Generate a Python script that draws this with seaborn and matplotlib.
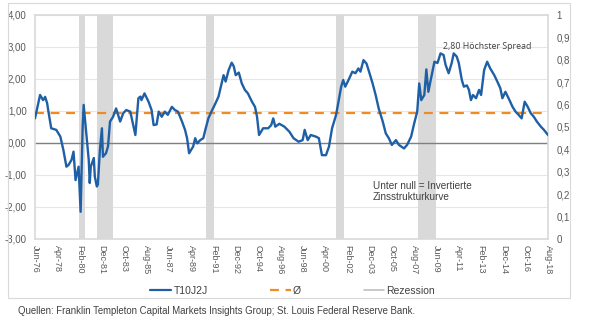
import numpy as np
import pandas as pd
import matplotlib
matplotlib.use("Agg")
import matplotlib.pyplot as plt
import seaborn as sns
from matplotlib.lines import Line2D
from matplotlib.patches import Rectangle

# ---------------- data ----------------
dates = ["1976-06", "1976-11", "1977-02", "1977-04", "1977-06", "1977-07", "1977-10", "1978-03",
         "1978-07", "1978-10", "1979-01", "1979-03", "1979-06", "1979-08", "1979-10", "1980-01",
         "1980-03", "1980-05", "1980-06", "1980-08", "1980-11", "1980-12", "1981-01", "1981-04",
         "1981-05", "1981-07", "1981-08", "1981-10", "1981-12", "1982-01", "1982-04", "1982-06",
         "1982-08", "1982-11", "1983-02", "1983-04", "1983-06", "1983-09", "1983-12", "1984-04",
         "1984-09", "1984-12", "1985-02", "1985-03", "1985-06", "1985-10", "1986-01", "1986-03",
         "1986-06", "1986-08", "1986-11", "1987-02", "1987-05", "1987-09", "1987-12", "1988-03",
         "1988-07", "1988-10", "1988-12", "1989-02", "1989-06", "1989-08", "1989-10", "1990-01",
         "1990-04", "1990-06", "1990-09", "1990-12", "1991-04", "1991-07", "1991-10", "1991-12",
         "1992-02", "1992-05", "1992-08", "1992-10", "1992-12", "1993-03", "1993-06", "1993-09",
         "1993-12", "1994-04", "1994-07", "1994-09", "1994-11", "1995-03", "1995-08", "1995-11",
         "1996-01", "1996-03", "1996-07", "1996-12", "1997-05", "1997-09", "1998-02", "1998-06",
         "1998-08", "1998-11", "1999-02", "1999-07", "1999-10", "2000-01", "2000-05", "2000-08",
         "2000-11", "2001-03", "2001-05", "2001-08", "2001-10", "2001-12", "2002-04", "2002-07",
         "2002-10", "2003-01", "2003-03", "2003-06", "2003-09", "2003-11", "2004-03", "2004-06",
         "2004-09", "2005-01", "2005-04", "2005-07", "2005-10", "2006-02", "2006-05", "2006-10",
         "2007-01", "2007-05", "2007-08", "2007-11", "2008-01", "2008-03", "2008-06", "2008-08",
         "2008-10", "2008-12", "2009-04", "2009-07", "2009-10", "2010-01", "2010-03", "2010-06",
         "2010-09", "2010-11", "2011-02", "2011-04", "2011-07", "2011-09", "2011-12", "2012-02",
         "2012-04", "2012-06", "2012-09", "2012-12", "2013-02", "2013-05", "2013-08", "2013-11",
         "2014-03", "2014-06", "2014-09", "2014-11", "2015-02", "2015-06", "2015-09", "2015-12",
         "2016-03", "2016-06", "2016-09", "2016-12", "2017-03", "2017-06", "2017-09", "2018-01",
         "2018-04", "2018-08"]
spread = [0.77, 1.50, 1.34, 1.44, 1.24, 1.03, 0.46, 0.41,
          0.20, -0.22, -0.74, -0.69, -0.53, -0.27, -1.16, -0.74,
          -2.15, 0.51, 1.19, 0.50, -0.53, -1.25, -0.74, -0.47,
          -1.05, -1.36, -1.30, -0.22, 0.46, -0.43, -0.32, -0.11,
          0.67, 0.82, 1.08, 0.88, 0.67, 0.93, 1.03, 0.98,
          0.25, 1.40, 1.45, 1.34, 1.55, 1.29, 1.03, 0.56,
          0.58, 0.98, 0.82, 0.98, 0.88, 1.13, 1.03, 0.98,
          0.67, 0.41, 0.15, -0.32, -0.11, 0.15, -0.01, 0.09,
          0.15, 0.41, 0.77, 0.98, 1.24, 1.45, 1.86, 2.12,
          1.92, 2.28, 2.51, 2.40, 2.12, 2.20, 1.86, 1.66,
          1.55, 1.29, 1.13, 0.82, 0.25, 0.46, 0.46, 0.56,
          0.77, 0.51, 0.60, 0.51, 0.35, 0.15, 0.04, 0.09,
          0.41, 0.09, 0.25, 0.20, 0.15, -0.38, -0.38, -0.11,
          0.46, 0.88, 1.24, 1.76, 1.97, 1.76, 2.02, 2.23,
          2.18, 2.33, 2.23, 2.59, 2.48, 2.28, 1.86, 1.50,
          1.08, 0.67, 0.30, 0.15, -0.06, 0.09, -0.06, -0.17,
          -0.06, 0.20, 0.61, 0.98, 1.86, 1.34, 1.50, 2.30,
          1.60, 1.92, 2.54, 2.50, 2.80, 2.75, 2.44, 2.18,
          2.50, 2.80, 2.70, 2.50, 1.97, 1.76, 1.80, 1.66,
          1.34, 1.50, 1.40, 1.66, 1.50, 2.28, 2.54, 2.33,
          2.12, 1.92, 1.71, 1.40, 1.60, 1.34, 1.13, 0.98,
          0.88, 0.77, 1.29, 1.13, 0.93, 0.82, 0.67, 0.51,
          0.41, 0.25]
mean_spread = 0.95
rec_start = ["1980-01", "1981-07", "1990-07", "2001-03", "2007-12"]
rec_end = ["1980-07", "1982-11", "1991-03", "2001-11", "2009-06"]
xtick_labels = ["Jun-76", "Apr-78", "Feb-80", "Dec-81", "Oct-83", "Aug-85", "Jun-87", "Apr-89",
                "Feb-91", "Dec-92", "Oct-94", "Aug-96", "Jun-98", "Apr-00", "Feb-02", "Dec-03",
                "Oct-05", "Aug-07", "Jun-09", "Apr-11", "Feb-13", "Dec-14", "Oct-16", "Aug-18"]
left_ticks = [4, 3, 2, 1, 0, -1, -2, -3]
left_tick_labels = ["4,00", "3,00", "2,00", "1,00", "0,00", "-1,00", "-2,00", "-3,00"]
right_ticks = [0, 0.1, 0.2, 0.3, 0.4, 0.5, 0.6, 0.7, 0.8, 0.9, 1.0]
right_tick_labels = ["0", "0,1", "0,2", "0,3", "0,4", "0,5", "0,6", "0,7", "0,8", "0,9", "1"]

# ---------------- styling ----------------
sns.set_theme(style="white")
plt.rcParams['font.family'] = ['Liberation Sans', 'DejaVu Sans']

BLUE = "#1F5FA6"
ORANGE = "#F08A24"
RECGRAY = "#D9D9D9"
TXT = "#595959"

start = pd.Period("1976-06", "M")


def midx(s):
    return (pd.Period(s, "M") - start).n


df = pd.DataFrame({"m": [midx(d) for d in dates], "v": spread})
xtick_pos = [(pd.Period(pd.to_datetime(l, format="%b-%y"), "M") - start).n for l in xtick_labels]

fig = plt.figure(figsize=(6.05, 3.25), dpi=100)
ax = fig.add_axes([35 / 605, 1 - 239 / 325, 513 / 605, 224 / 325])

# recession bands
for s, e in zip(rec_start, rec_end):
    ax.axvspan(midx(s), midx(e), color=RECGRAY, lw=0, zorder=1)

ax.set_yticks(left_ticks)
ax.set_yticklabels(left_tick_labels)
ax.grid(axis="y", color="#E6E6E6", lw=0.8, zorder=0)
ax.set_axisbelow(True)

ax.axhline(0, color="#808080", lw=1.0, zorder=2)
ax.axhline(mean_spread, color=ORANGE, lw=1.6, ls=(0, (4, 3)), zorder=2)
sns.lineplot(data=df, x="m", y="v", ax=ax, color=BLUE, lw=1.7, zorder=3)

ax.set_xlim(0, xtick_pos[-1])
ax.set_ylim(-3, 4)
ax.set_xticks(xtick_pos)
ax.set_xticklabels(xtick_labels, rotation=270, ha="center", va="top")
ax.set_xlabel("")
ax.set_ylabel("")
ax.tick_params(axis="x", length=0, pad=4, labelsize=6.5, labelcolor=TXT)
ax.tick_params(axis="y", length=0, pad=6, labelsize=7, labelcolor=TXT)
for sp in ax.spines.values():
    sp.set_color(RECGRAY)
    sp.set_linewidth(1.2)

ax2 = ax.twinx()
ax2.set_ylim(0, 1)
ax2.set_yticks(right_ticks)
ax2.set_yticklabels(right_tick_labels)
ax2.tick_params(axis="y", length=0, pad=6, labelsize=7, labelcolor=TXT)
ax2.grid(False)
for sp in ax2.spines.values():
    sp.set_visible(False)

# annotations
ax.text(402, 3.03, "2,80 Höchster Spread", fontsize=6.3, color="#404040",
        family=["Open Sans", "DejaVu Sans"], ha="left", va="center", zorder=4)
ax.text(333.5, -1.52, "Unter null = Invertierte\nZinsstrukturkurve", fontsize=7.2,
        color="#404040", ha="left", va="center", linespacing=1.15, zorder=4)

# legend
handles = [Line2D([], [], color=BLUE, lw=1.6),
           Line2D([], [], color=ORANGE, lw=1.6, ls=(0, (4, 3))),
           Line2D([], [], color="#BFBFBF", lw=1.2)]
fig.legend(handles, ["T10J2J", "Ø", "Rezession"], loc="center", bbox_to_anchor=(0.484, 0.105),
           ncol=3, frameon=False, fontsize=7.5, handlelength=2.0, handletextpad=0.2,
           columnspacing=6.0, labelcolor="#404040")

# outer chart frame
fig.patches.append(Rectangle((8 / 605, 1 - 298 / 325), 562 / 605, 295 / 325,
                             transform=fig.transFigure, fill=False, ec="#D9D9D9", lw=0.8))

fig.text(18 / 605, 1 - 311 / 325,
         "Quellen: Franklin Templeton Capital Markets Insights Group; St. Louis Federal Reserve Bank.",
         fontsize=6.9, color="#404040", ha="left", va="center")

fig.savefig("out.png", dpi=100)
